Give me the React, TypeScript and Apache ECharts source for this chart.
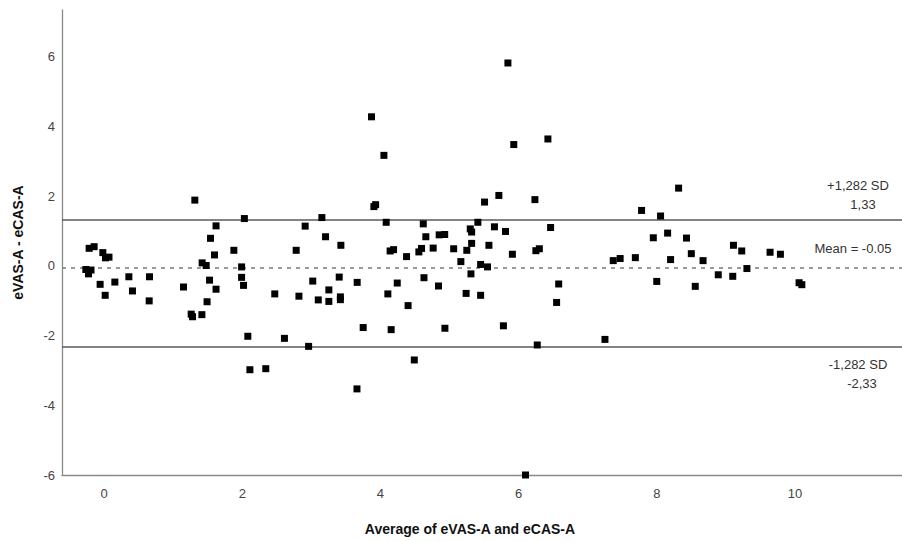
import React, { useEffect, useRef } from "react";
import * as echarts from "echarts";

const avgValues = [
  -0.265, -0.19, -0.226, -0.217, -0.145, -0.019, 0.02, 0.07, -0.058, 0.015,
  0.155, 0.358, 0.41, 0.657, 0.652, 1.149, 1.26, 1.28, 1.415, 1.313,
  1.419, 1.477, 1.526, 1.62, 1.49, 1.54, 1.598, 1.62, 1.878, 2.03,
  1.99, 1.99, 2.018, 2.08, 2.11, 2.34, 2.47, 2.61, 2.78, 2.82,
  2.91, 2.96, 3.02, 3.1, 3.152, 3.205, 3.253, 3.253, 3.403, 3.42,
  3.42, 3.427, 3.66, 3.663, 3.75, 3.87, 3.905, 3.93, 4.05, 4.083,
  4.107, 4.14, 4.155, 4.19, 4.243, 4.378, 4.4, 4.49, 4.556, 4.595,
  4.62, 4.63, 4.657, 4.763, 4.84, 4.85, 4.93, 4.933, 5.06, 5.164,
  5.24, 5.25, 5.3, 5.32, 5.32, 5.31, 5.41, 5.45, 5.45, 5.507,
  5.55, 5.57, 5.65, 5.714, 5.78, 5.81, 5.845, 5.91, 5.93, 6.1,
  6.236, 6.25, 6.27, 6.3, 6.424, 6.463, 6.55, 6.58, 7.25, 7.37,
  7.47, 7.69, 7.78, 7.95, 8.0, 8.055, 8.157, 8.2, 8.316, 8.43,
  8.5, 8.557, 8.67, 8.89, 9.1, 9.11, 9.23, 9.305, 9.64, 9.79,
  10.06, 10.1,
];

const diffValues = [
  -0.105, -0.12, -0.23, 0.503, 0.55, 0.38, 0.23, 0.25, -0.53, -0.845,
  -0.465, -0.313, -0.72, -0.313, -1.005, -0.607, -1.385, -1.46, -1.4, 1.886,
  0.085, 0.01, -0.41, -0.67, -1.03, 0.79, 0.313, 1.147, 0.446, 1.357,
  -0.03, -0.33, -0.56, -2.02, -2.98, -2.95, -0.805, -2.08, 0.446, -0.87,
  1.14, -2.31, -0.437, -0.977, 1.385, 0.835, -0.69, -1.02, -0.322, -0.89,
  -0.97, 0.59, -3.53, -0.474, -1.77, 4.276, 1.7, 1.755, 3.17, 1.25,
  -0.805, 0.427, -1.83, 0.465, -0.493, 0.265, -1.14, -2.7, 0.4, 0.5,
  1.205, -0.34, 0.835, 0.51, -0.578, 0.89, 0.9, -1.79, 0.49, 0.122,
  -0.79, 0.446, 1.06, 0.97, 0.645, -0.23, 1.25, 0.04, -0.845, 1.83,
  -0.03, 0.59, 1.12, 2.02, -1.72, 0.987, 5.82, 0.333, 3.48, -6.0,
  1.9, 0.435, -2.27, 0.49, 3.64, 1.1, -1.05, -0.52, -2.11, 0.15,
  0.21, 0.236, 1.59, 0.806, -0.447, 1.43, 0.94, 0.18, 2.23, 0.797,
  0.35, -0.588, 0.15, -0.256, -0.3, 0.59, 0.427, -0.077, 0.39, 0.333,
  -0.484, -0.54,
];

const xTicks = [0, 2, 4, 6, 8, 10];
const yTicks = [-6, -4, -2, 0, 2, 4, 6];

const meanDiff = -0.05;
const upperLoA = 1.33;
const lowerLoA = -2.33;
const upperLabel = ["+1,282 SD", "1,33"];
const meanLabel = "Mean = -0.05";
const lowerLabel = ["-1,282 SD", "-2,33"];

const FONT = "Liberation Sans, Arial, sans-serif";

export default function App() {
  const ref = useRef<HTMLDivElement>(null);

  useEffect(() => {
    if (!ref.current) return;
    const chart = echarts.init(ref.current, null, { renderer: "svg" });
    const data = avgValues.map((x, i) => [x, diffValues[i]]);

    chart.setOption({
      animation: false,
      backgroundColor: "#ffffff",
      grid: { left: 62, right: 0, top: 10, bottom: 62, containLabel: false },
      xAxis: {
        type: "value",
        min: -0.61,
        max: 11.55,
        name: "Average of eVAS-A and eCAS-A",
        nameLocation: "middle",
        nameGap: 47,
        nameTextStyle: {
          fontFamily: FONT,
          fontSize: 14,
          fontWeight: "bold",
          color: "#111",
          padding: [0, 24, 0, 0],
        },
        axisLine: { show: true, onZero: false, lineStyle: { color: "#8a8a8a", width: 1.3 } },
        axisTick: { show: false },
        splitLine: { show: false },
        axisLabel: {
          customValues: xTicks,
          margin: 12,
          fontFamily: FONT,
          fontSize: 13,
          color: "#444",
        },
      },
      yAxis: {
        type: "value",
        min: -6,
        max: 7.34,
        name: "eVAS-A - eCAS-A",
        nameLocation: "middle",
        nameGap: 37,
        nameTextStyle: {
          fontFamily: FONT,
          fontSize: 14,
          fontWeight: "bold",
          color: "#111",
        },
        axisLine: { show: true, onZero: false, lineStyle: { color: "#8a8a8a", width: 1.3 } },
        axisTick: { show: false },
        splitLine: { show: false },
        axisLabel: {
          customValues: yTicks,
          margin: 7,
          fontFamily: FONT,
          fontSize: 13,
          color: "#444",
          padding: [8, 0, 0, 0],
        },
      },
      series: [
        {
          type: "scatter",
          data,
          symbol: "rect",
          symbolSize: 7,
          itemStyle: { color: "#000", opacity: 1 },
          z: 3,
          markLine: {
            silent: true,
            symbol: "none",
            label: { show: false },
            z: 2,
            data: [
              { yAxis: upperLoA, lineStyle: { color: "#5a5a5a", width: 1.5, type: "solid" } },
              { yAxis: meanDiff, lineStyle: { color: "#7a7a7a", width: 1.5, type: [4, 5] } },
              { yAxis: lowerLoA, lineStyle: { color: "#5a5a5a", width: 1.5, type: "solid" } },
            ],
          },
        },
      ],
    });

    const yUp = chart.convertToPixel({ gridIndex: 0 }, [0, upperLoA])[1];
    const yMean = chart.convertToPixel({ gridIndex: 0 }, [0, meanDiff])[1];
    const yLow = chart.convertToPixel({ gridIndex: 0 }, [0, lowerLoA])[1];
    const txt = (x: number, y: number, s: string) => ({
      type: "text",
      x,
      y,
      silent: true,
      style: {
        text: s,
        fontFamily: FONT,
        fontSize: 13,
        fill: "#333",
        align: "center",
        verticalAlign: "middle",
      },
    });

    chart.setOption({
      graphic: [
        txt(858, yUp - 34, upperLabel[0]),
        txt(863, yUp - 15, upperLabel[1]),
        txt(853, yMean - 19, meanLabel),
        txt(858, yLow + 17, lowerLabel[0]),
        txt(862, yLow + 36, lowerLabel[1]),
      ],
    });

    return () => chart.dispose();
  }, []);

  return (
    <div
      ref={ref}
      style={{ position: "fixed", left: 0, top: 0, width: 902, height: 541, background: "#fff" }}
    />
  );
}
